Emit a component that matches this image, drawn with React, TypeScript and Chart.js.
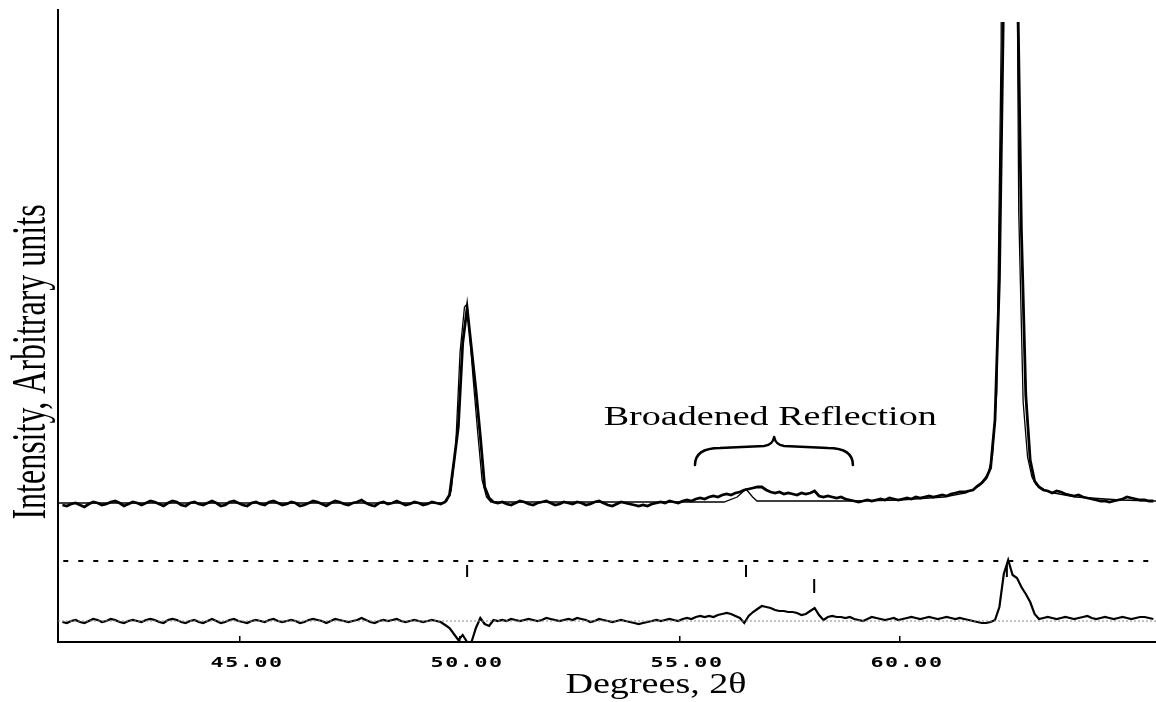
import React, { useEffect, useRef } from 'react';
import { Chart, registerables } from 'chart.js';

Chart.register(...registerables);

// Powder scan: 2θ grid starts at scanStart and advances by scanStep per sample
const scanStart = 40.96;
const scanStep = 0.1;

// Observed intensity (arbitrary units) along the scan
const observed = [
  137, 136, 138, 139, 137, 135, 138, 140, 139, 137,
  138, 140, 141, 139, 136, 138, 140, 139, 137, 139,
  141, 140, 138, 136, 139, 141, 140, 137, 136, 139,
  140, 138, 137, 139, 141, 139, 136, 137, 140, 141,
  139, 137, 136, 139, 140, 138, 137, 140, 141, 139,
  137, 138, 140, 139, 136, 137, 139, 141, 140, 138,
  136, 139, 141, 140, 138, 137, 139, 140, 142, 139,
  137, 136, 139, 140, 138, 139, 141, 139, 137, 138,
  140, 139, 137, 138, 140, 139, 138, 140,
  147, 180, 215, 299, 334, 293, 252, 206, 155, 144, 140,
  139, 140, 138, 137, 139, 141, 140, 138, 137, 139,
  140, 141, 139, 137, 138, 140, 139, 138, 140, 139,
  137, 138, 140, 141, 139, 137, 136, 138, 140, 139,
  138, 137, 136, 137, 136, 138, 139, 140, 139, 141,
  140, 139, 141, 142, 141,
  143, 144, 143, 145, 146, 145, 147, 148, 147, 149,
  150, 152, 153, 154, 155, 155, 152, 150, 149, 150,
  148, 149, 148, 147, 149, 148, 149, 151, 146, 145,
  146, 145, 144, 145, 143, 142, 141, 140, 141, 142, 141,
  142, 143, 142, 144, 143, 142, 143, 144, 143, 145,
  144, 145, 146, 145, 146, 147, 146, 148, 149, 150,
  150, 151, 152, 156, 159, 164,
  174, 222, 362, 660, 2600, 3100, 700, 412, 247, 182, 161, 155, 152, 151,
  149, 151, 150, 148, 147, 146, 147, 145, 144, 143,
  142, 141, 141, 140, 141, 142, 143, 145, 144, 143,
  142, 142, 141, 141,
];

// Difference curve (observed - calculated), plotted with its own offset
const difference = [
  20, 19, 21, 22, 20, 19, 21, 23, 22, 20,
  21, 23, 22, 20, 19, 21, 22, 21, 20, 22,
  23, 22, 20, 19, 22, 23, 22, 20, 19, 21,
  22, 20, 19, 21, 23, 21, 19, 20, 22, 23,
  21, 20, 19, 21, 22, 21, 20, 22, 23, 21,
  20, 21, 22, 21, 19, 20, 22, 23, 22, 21,
  19, 21, 23, 22, 21, 20, 21, 22, 24, 22,
  20, 19, 21, 22, 21, 22, 23, 21, 20, 21,
  22, 21, 20, 21, 22, 21, 20, 17,
  14, 8, 2, 7, 0, 0, 14, 24, 18, 16, 22,
  21, 22, 21, 23, 22, 21, 22, 23, 22, 21,
  22, 24, 23, 22, 21, 22, 23, 22, 24, 23,
  22, 20, 21, 23, 22, 21, 20, 21, 22, 21,
  20, 19, 18, 19, 20, 21, 22, 21, 22, 23,
  22, 21, 23, 24, 23,
  25, 26, 25, 26, 25, 27, 28, 29, 28, 26,
  24, 19, 26, 30, 33, 36, 35, 34, 32, 31,
  31, 30, 30, 29, 27, 28, 31, 34, 27, 22,
  25, 26, 25, 25, 24, 25, 23, 22, 21, 23, 25,
  24, 23, 22, 23, 24, 22, 23, 24, 25, 24,
  23, 24, 25, 24, 23, 24, 25, 24, 23, 24,
  23, 22, 21, 20, 19, 19,
  20, 22, 35, 68, 82, 67, 64, 55, 48, 40, 28,
  23, 24, 25, 24, 23, 24, 25, 24, 23, 24,
  25, 26, 24, 23, 24, 25, 24, 23, 24, 25,
  24, 23, 24, 25, 25, 24, 23,
];

// Calculated (fitted) profile
const calcTheta = [
  40.86, 49.6, 49.7, 49.8, 49.9, 50.0, 50.1, 50.16, 50.2, 50.3,
  50.4, 50.5, 50.6, 50.7, 56.0, 56.3, 56.5, 56.65, 56.75, 59.0,
  60.0, 61.0, 61.5, 61.8, 62.0, 62.1, 62.2, 62.3, 62.4, 62.5,
  62.6, 62.7, 62.8, 62.9, 63.0, 63.1, 63.3, 63.5, 64.0, 65.0,
  65.82,
];
const calcCounts = [
  139, 139, 141, 152, 195, 290, 335, 338, 318, 262,
  210, 162, 145, 140, 140, 145, 153, 145, 141, 141,
  142, 145, 149, 156, 168, 185, 250, 600, 2800, 3300,
  1100, 430, 240, 185, 165, 157, 152, 149, 145, 142,
  141,
];

// Reflection positions (2θ) for the two marker rows
const reflectionsRowA = [50.16, 56.5, 62.43];
const reflectionsRowB = [58.05];

// Axis
const xTicks = [45, 50, 55, 60];
const xMin = 40.86;
const xMax = 65.82;
const yMin = 0;
const yMax = 632;

// Levels inside the lower panel
const separatorLevel = 81;
const differenceZero = 21;
const rowALevel = 71;
const rowBLevel = 56;

// Annotation for the broad hump
const braceFrom = 55.34;
const braceTo = 58.93;
const braceTip = 57.14;
const braceBase = 177;
const braceTop = 205;
const braceLabel = 'Broadened Reflection';
const braceLabelAt = { x: 57.05, y: 217 };

const xTitle = 'Degrees, 2θ';
const yTitle = 'Intensity, Arbitrary units';

const thetaAt = (i: number) => Math.round((scanStart + i * scanStep) * 100) / 100;

const textOverlay = {
  id: 'textOverlay',
  afterDraw(chart: any) {
    const { ctx, scales } = chart;
    const x = scales.x;
    const y = scales.y;
    ctx.save();
    ctx.fillStyle = '#000';
    ctx.strokeStyle = '#000';

    // tick labels
    ctx.font = 'bold 14px "DejaVu Sans Mono"';
    (ctx as any).letterSpacing = '1px';
    ctx.textAlign = 'center';
    ctx.textBaseline = 'alphabetic';
    for (const t of x.ticks) {
      const px = x.getPixelForValue(t.value) + 7;
      ctx.save();
      ctx.translate(px, 667);
      ctx.scale(1.55, 1);
      ctx.fillText(Number(t.value).toFixed(2), 0, 0);
      ctx.restore();
    }
    (ctx as any).letterSpacing = '0px';

    // x title
    ctx.font = '30px "Liberation Serif"';
    ctx.save();
    ctx.translate(656, 693);
    ctx.scale(1.27, 1);
    ctx.fillText(xTitle, 0, 0);
    ctx.restore();

    // y title
    ctx.font = '32px "Liberation Serif"';
    ctx.save();
    ctx.translate(45, 362);
    ctx.rotate(-Math.PI / 2);
    ctx.scale(1, 1.5);
    ctx.fillText(yTitle, 0, 0);
    ctx.restore();

    // annotation label
    ctx.font = '28px "Liberation Serif"';
    ctx.save();
    ctx.translate(x.getPixelForValue(braceLabelAt.x), y.getPixelForValue(braceLabelAt.y));
    ctx.scale(1.36, 1);
    ctx.fillText(braceLabel, 0, 0);
    ctx.restore();

    // curly brace
    const L = x.getPixelForValue(braceFrom);
    const R = x.getPixelForValue(braceTo);
    const T = x.getPixelForValue(braceTip);
    const yb = y.getPixelForValue(braceBase);
    const yt = y.getPixelForValue(braceTop);
    const ym = yb - 17;
    ctx.lineWidth = 2.5;
    ctx.lineCap = 'round';
    ctx.lineJoin = 'round';
    ctx.beginPath();
    ctx.moveTo(L, yb);
    ctx.bezierCurveTo(L, yb - 11, L + 8, ym, L + 25, ym);
    ctx.lineTo(T - 10, ym - 2);
    ctx.bezierCurveTo(T - 3, ym - 3, T - 1, ym - 6, T, yt);
    ctx.bezierCurveTo(T + 1, ym - 6, T + 3, ym - 3, T + 10, ym - 2);
    ctx.lineTo(R - 25, ym);
    ctx.bezierCurveTo(R - 8, ym, R, yb - 11, R, yb);
    ctx.stroke();

    ctx.restore();
  },
};

export default function App() {
  const canvasRef = useRef<HTMLCanvasElement | null>(null);

  useEffect(() => {
    const canvas = canvasRef.current;
    if (!canvas) return;
    const topClip = { left: 0, top: -12, right: 0, bottom: 0 };

    const chart = new Chart(canvas, {
      type: 'line',
      data: {
        datasets: [
          {
            label: 'Observed',
            data: observed.map((v, i) => ({ x: thetaAt(i), y: v })),
            borderColor: '#000',
            borderWidth: 2.8,
            pointRadius: 0,
            tension: 0,
            clip: topClip as any,
          },
          {
            label: 'Calculated',
            data: calcTheta.map((t, i) => ({ x: t, y: calcCounts[i] })),
            borderColor: '#000',
            borderWidth: 1.3,
            pointRadius: 0,
            tension: 0,
            clip: topClip as any,
          },
          {
            label: 'Separator',
            data: [
              { x: 40.98, y: separatorLevel },
              { x: xMax, y: separatorLevel },
            ],
            borderColor: '#000',
            borderWidth: 2,
            borderDash: [5, 10],
            pointRadius: 0,
          },
          {
            label: 'Zero',
            data: [
              { x: xMin, y: differenceZero },
              { x: xMax, y: differenceZero },
            ],
            borderColor: '#8a8a8a',
            borderWidth: 1,
            borderDash: [2, 2],
            pointRadius: 0,
          },
          {
            label: 'Difference',
            data: difference.map((v, i) => ({ x: thetaAt(i), y: v })),
            borderColor: '#000',
            borderWidth: 2.2,
            pointRadius: 0,
            tension: 0,
            clip: { left: 0, top: 0, right: 0, bottom: 2 } as any,
          },
          {
            type: 'scatter',
            label: 'Reflections A',
            data: reflectionsRowA.map((t) => ({ x: t, y: rowALevel })),
            showLine: false,
            pointStyle: 'line',
            rotation: 90,
            pointRadius: 6,
            borderWidth: 2,
            borderColor: '#000',
          } as any,
          {
            type: 'scatter',
            label: 'Reflections B',
            data: reflectionsRowB.map((t) => ({ x: t, y: rowBLevel })),
            showLine: false,
            pointStyle: 'line',
            rotation: 90,
            pointRadius: 7,
            borderWidth: 2,
            borderColor: '#000',
          } as any,
        ],
      },
      options: {
        animation: false,
        responsive: false,
        devicePixelRatio: 1,
        layout: {
          autoPadding: false,
          padding: { left: 58, top: 10, right: 0, bottom: 0 },
        },
        plugins: {
          legend: { display: false },
          tooltip: { enabled: false },
        },
        scales: {
          x: {
            type: 'linear',
            min: xMin,
            max: xMax,
            afterBuildTicks: (s: any) => {
              s.ticks = xTicks.map((v) => ({ value: v }));
            },
            afterFit: (s: any) => {
              s.height = 60;
            },
            ticks: { display: false },
            grid: {
              display: true,
              drawOnChartArea: false,
              drawTicks: true,
              tickLength: -6,
              color: '#000',
              lineWidth: 1.5,
            },
            border: { display: true, color: '#000', width: 2 },
          },
          y: {
            type: 'linear',
            min: yMin,
            max: yMax,
            afterFit: (s: any) => {
              s.width = 0;
            },
            ticks: { display: false },
            grid: { display: false },
            border: { display: true, color: '#000', width: 2 },
          },
        },
      },
      plugins: [textOverlay],
    });

    return () => {
      chart.destroy();
    };
  }, []);

  return (
    <div
      style={{
        position: 'fixed',
        left: 0,
        top: 0,
        width: 1156,
        height: 702,
        background: '#fff',
      }}
    >
      <canvas ref={canvasRef} width={1156} height={702} style={{ display: 'block' }} />
    </div>
  );
}
